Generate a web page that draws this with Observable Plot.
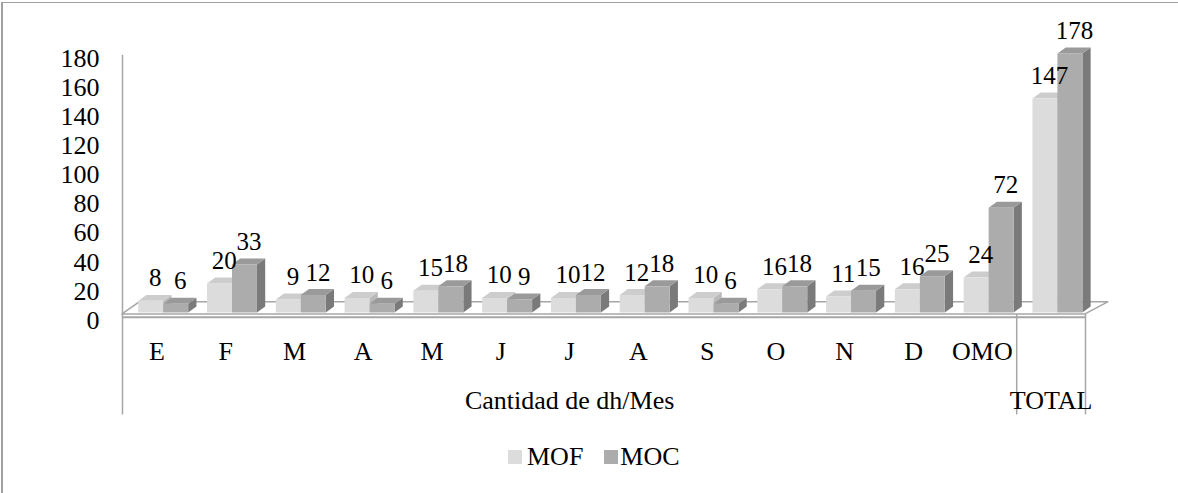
<!DOCTYPE html>
<html>
<head>
<meta charset="utf-8">
<script src="https://cdn.jsdelivr.net/npm/d3@7"></script>
<script src="https://cdn.jsdelivr.net/npm/@observablehq/plot@0.6"></script>
<style>
  body { margin: 0; background: #fff; }
  #wrap { position: relative; width: 1178px; height: 493px; overflow: hidden; background: #fff;
          font-family: "Liberation Serif", "Times New Roman", serif; }
  #chart { position: absolute; left: 0; top: 0; }
  #border { position: absolute; left: 1px; top: 2px; width: 1300px; height: 600px;
            border-top: 1px solid #a0a0a0; border-left: 2px solid #a0a0a0; pointer-events: none; }
  #legend { position: absolute; left: 508px; top: 443px; height: 28px; display: flex; align-items: center;
            font-size: 26px; color: #000; }
  .sw { display: inline-block; width: 14px; height: 14px; }
</style>
</head>
<body>
<div id="wrap">
  <div id="chart"></div>
  <div id="legend"></div>
  <div id="border"></div>
</div>
<script>
// ---- data ----
const categories = ["E","F","M","A","M","J","J","A","S","O","N","D","OMO","TOTAL"];
const tickLabels = ["E","F","M","A","M","J","J","A","S","O","N","D","OMO",""];
const groupLabels = ["Cantidad de dh/Mes", "TOTAL"];
const groupStart = [0, 13];
const groupEnd = [13, 14];
const series = ["MOF", "MOC"];
const mof = [8, 20, 9, 10, 15, 10, 10, 12, 10, 16, 11, 16, 24, 147];
const moc = [6, 33, 12, 6, 18, 9, 12, 18, 6, 18, 15, 25, 72, 178];
const yTicks = [0, 20, 40, 60, 80, 100, 120, 140, 160, 180];

// ---- styles ----
const frontColor = {MOF: "#dcdcdc", MOC: "#acacac"};
const sideColor = {MOF: "#b9b9b9", MOC: "#7a7a7a"};
const topColor = {MOF: "#cdcdcd", MOC: "#9a9a9a"};
const lineColor = "#a6a6a6";
const font = '"Liberation Serif", "Times New Roman", serif';

// bar geometry in category units / value units
const BAR_W = 0.363, BAR_OFF = 0.236, DX = 0.12, DY = 4.1;

const values = {MOF: mof, MOC: moc};
const bars = [];
categories.forEach((c, i) => {
  series.forEach((s, k) => {
    const x1 = i + BAR_OFF + k * BAR_W;
    bars.push({cat: c, i, s, v: values[s][i], x1, x2: x1 + BAR_W, id: i * 2 + k});
  });
});

const sidePts = bars.flatMap(b => [
  {id: b.id, s: b.s, x: b.x2, y1: 0, y2: b.v},
  {id: b.id, s: b.s, x: b.x2 + DX, y1: DY, y2: b.v + DY}
]);
const topPts = bars.flatMap(b => [
  {id: b.id, s: b.s, y: b.v, x1: b.x1, x2: b.x2},
  {id: b.id, s: b.s, y: b.v + DY, x1: b.x1 + DX, x2: b.x2 + DX}
]);
const n = categories.length;
const floor = [
  {y: -1, x1: 0, x2: n},
  {y: 7.3, x1: 0.25, x2: n + 0.33}
];

const chart = Plot.plot({
  width: 1178,
  height: 430,
  marginLeft: 122,
  marginRight: 93,
  marginTop: 50.5,
  marginBottom: 117.5,
  style: {fontFamily: font, fontSize: "26px", color: "#000", background: "transparent", overflow: "visible"},
  x: {type: "linear", domain: [0, n], axis: null},
  y: {type: "linear", domain: [0, 180], axis: null},
  marks: [
    // floor plate
    Plot.areaX(floor, {y: "y", x1: "x1", x2: "x2", fill: "#fff", stroke: lineColor, strokeWidth: 1.5}),
    // value axis line + category separators
    Plot.ruleX([0], {y1: -70, y2: 177, stroke: lineColor, strokeWidth: 1.5}),
    Plot.ruleX(groupEnd, {y1: -1, y2: -70, stroke: lineColor, strokeWidth: 1.5}),
    Plot.ruleY([-3], {x1: 0, x2: n, stroke: lineColor, strokeWidth: 2}),
    // 3D bars
    Plot.areaY(sidePts, {x: "x", y1: "y1", y2: "y2", z: "id", fill: d => sideColor[d.s], curve: "linear"}),
    Plot.areaX(topPts, {y: "y", x1: "x1", x2: "x2", z: "id", fill: d => topColor[d.s], curve: "linear"}),
    Plot.rect(bars, {x1: "x1", x2: "x2", y1: 0, y2: "v", fill: d => frontColor[d.s]}),
    // value labels
    Plot.text(bars, {x: d => (d.x1 + d.x2) / 2 + DX / 2, y: d => d.v + DY, text: d => String(d.v),
      dy: -17, fontSize: 25, fill: "#000", lineAnchor: "middle"}),
    // y axis tick labels
    Plot.axisY({ticks: yTicks, tickSize: 0, tickPadding: 23, dy: 7.5, fontSize: 26, tickFormat: d => String(d)}),
    // category labels
    Plot.text(tickLabels, {x: (d, i) => i + 0.5, frameAnchor: "bottom", lineAnchor: "middle", dy: 38.5,
      text: d => d, fontSize: 26, fill: "#000"}),
    // group labels
    Plot.text(groupLabels, {x: (d, i) => (groupStart[i] + groupEnd[i]) / 2, frameAnchor: "bottom", lineAnchor: "middle",
      dy: 87.5, text: d => d, fontSize: 26, fill: "#000"})
  ]
});
document.getElementById("chart").appendChild(chart);

// legend
const legend = document.getElementById("legend");
series.forEach((s, k) => {
  const sw = document.createElement("span");
  sw.className = "sw";
  sw.style.background = frontColor[s];
  if (k > 0) sw.style.marginLeft = "21px";
  const t = document.createElement("span");
  t.textContent = s;
  t.style.marginLeft = k > 0 ? "2px" : "5px";
  legend.appendChild(sw);
  legend.appendChild(t);
});
</script>
</body>
</html>
